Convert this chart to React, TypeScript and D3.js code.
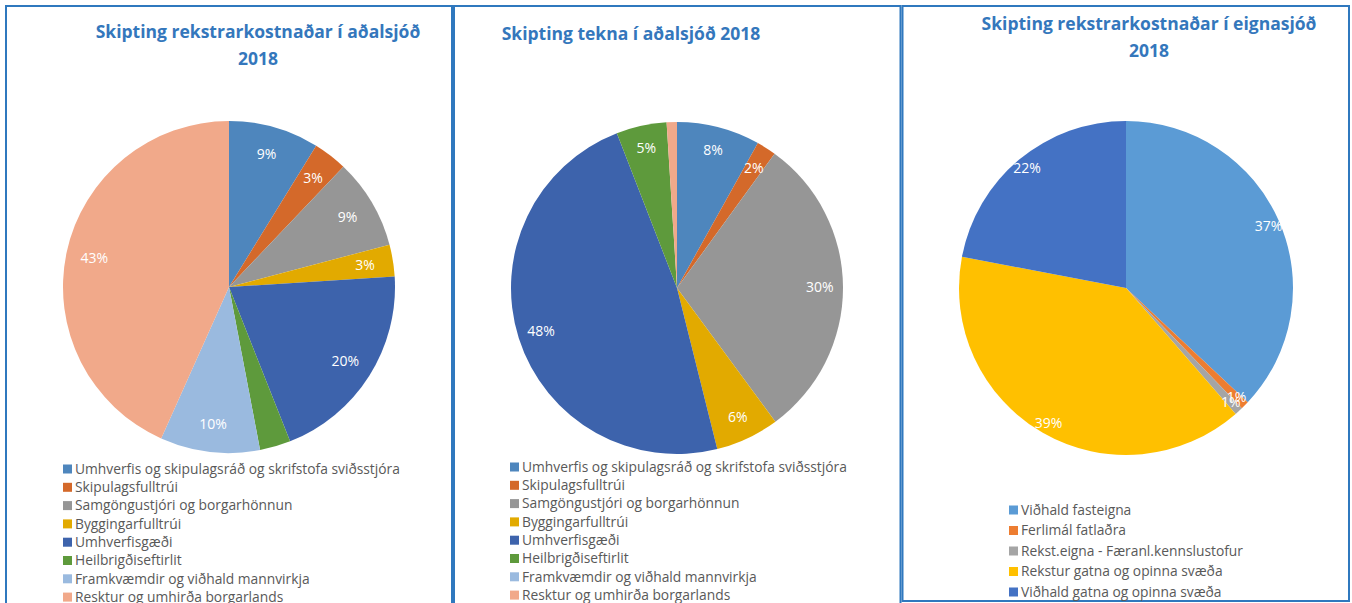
import React from "react";
import * as d3 from "d3";

const aCategories = [
  "Umhverfis og skipulagsráð og skrifstofa sviðsstjóra",
  "Skipulagsfulltrúi",
  "Samgöngustjóri og borgarhönnun",
  "Byggingarfulltrúi",
  "Umhverfisgæði",
  "Heilbrigðiseftirlit",
  "Framkvæmdir og viðhald mannvirkja",
  "Resktur og umhirða borgarlands",
];
const aColors = ["#4E86BD", "#D4692A", "#969696", "#E2AA00", "#3D63AC", "#5E9A3C", "#9ABADF", "#F1A98A"];

const costValues = [8.8, 3.3, 8.8, 3.1, 20.0, 3.0, 9.7, 43.3];
const costLabels = ["9%", "3%", "9%", "3%", "20%", "", "10%", "43%"];

const incomeValues = [8.1, 1.9, 29.9, 6.2, 48.0, 4.9, 0, 1.0];
const incomeLabels = ["8%", "2%", "30%", "6%", "48%", "5%", "", ""];

const eCategories = [
  "Viðhald fasteigna",
  "Ferlimál fatlaðra",
  "Rekst.eigna - Færanl.kennslustofur",
  "Rekstur gatna og opinna svæða",
  "Viðhald gatna og opinna svæða",
];
const eColors = ["#5B9BD5", "#ED7D31", "#A5A5A5", "#FFC000", "#4472C4"];
const eValues = [37.0, 0.8, 0.8, 39.4, 22.0];
const eLabels = ["37%", "1%", "1%", "39%", "22%"];

const FONT = "'Open Sans', 'Noto Sans', sans-serif";

type PanelProps = {
  x0: number;
  x1: number;
  bottom?: number;
  titleLines: string[];
  titleX: number;
  titleY: number;
  cx: number;
  cy: number;
  r: number;
  labelRatio: number;
  values: number[];
  labels: string[];
  colors: string[];
  categories: string[];
  legX: number;
  legY: number;
  legStep: number;
};

function Panel(p: PanelProps) {
  const pie = d3.pie<number>().sort(null).startAngle(0).endAngle(2 * Math.PI);
  const arcs = pie(p.values);
  const arc = d3.arc<d3.PieArcDatum<number>>().innerRadius(0).outerRadius(p.r);
  const labelArc = d3
    .arc<d3.PieArcDatum<number>>()
    .innerRadius(p.r * p.labelRatio)
    .outerRadius(p.r * p.labelRatio);
  return (
    <g>
      <path
        d={`M${p.x0},${p.bottom ?? 620} L${p.x0},6 L${p.x1},6 L${p.x1},${p.bottom ?? 620}${p.bottom ? " Z" : ""}`}
        fill="none"
        stroke="#2F78BE"
        strokeWidth={2}
      />
      {p.titleLines.map((t, i) => (
        <text
          key={i}
          x={p.titleX}
          y={p.titleY + i * 27}
          textAnchor="middle"
          fontFamily={FONT}
          fontWeight="bold"
          fontSize={17.5}
          fill="#3477BC"
        >
          {t}
        </text>
      ))}
      <g transform={`translate(${p.cx},${p.cy})`}>
        {arcs.map((a, i) => (
          <path key={i} d={arc(a) || ""} fill={p.colors[i]} />
        ))}
        {arcs.map((a, i) => {
          if (!p.labels[i]) return null;
          const [lx, ly] = labelArc.centroid(a);
          return (
            <text
              key={"l" + i}
              x={lx}
              y={ly}
              dy="0.35em"
              textAnchor="middle"
              fontFamily={FONT}
              fontSize={14}
              fill="#FFFFFF"
            >
              {p.labels[i]}
            </text>
          );
        })}
      </g>
      {p.categories.map((c, i) => (
        <g key={c} transform={`translate(${p.legX},${p.legY + i * p.legStep})`}>
          <rect x={0} y={-4.5} width={9} height={9} fill={p.colors[i]} />
          <text x={12} y={0} dy="0.35em" fontFamily={FONT} fontSize={13.8} fill="#595959">
            {c}
          </text>
        </g>
      ))}
    </g>
  );
}

export default function App() {
  return (
    <svg
      width={1352}
      height={603}
      style={{ position: "absolute", left: 0, top: 0, display: "block", background: "#fff" }}
    >
      <Panel
        x0={6}
        x1={452}
        titleLines={["Skipting rekstrarkostnaðar í aðalsjóð", "2018"]}
        titleX={258}
        titleY={38}
        cx={229}
        cy={287}
        r={166}
        labelRatio={0.83}
        values={costValues}
        labels={costLabels}
        colors={aColors}
        categories={aCategories}
        legX={63}
        legY={469}
        legStep={18.3}
      />
      <Panel
        x0={454}
        x1={900.5}
        titleLines={["Skipting tekna í aðalsjóð 2018"]}
        titleX={631}
        titleY={40}
        cx={677}
        cy={288}
        r={166}
        labelRatio={0.86}
        values={incomeValues}
        labels={incomeLabels}
        colors={aColors}
        categories={aCategories}
        legX={510}
        legY={467}
        legStep={18.3}
      />
      <Panel
        x0={902.5}
        x1={1349}
        bottom={601}
        titleLines={["Skipting rekstrarkostnaðar í eignasjóð", "2018"]}
        titleX={1149}
        titleY={30}
        cx={1126}
        cy={288}
        r={167}
        labelRatio={0.93}
        values={eValues}
        labels={eLabels}
        colors={eColors}
        categories={eCategories}
        legX={1009}
        legY={510}
        legStep={20.5}
      />
    </svg>
  );
}
